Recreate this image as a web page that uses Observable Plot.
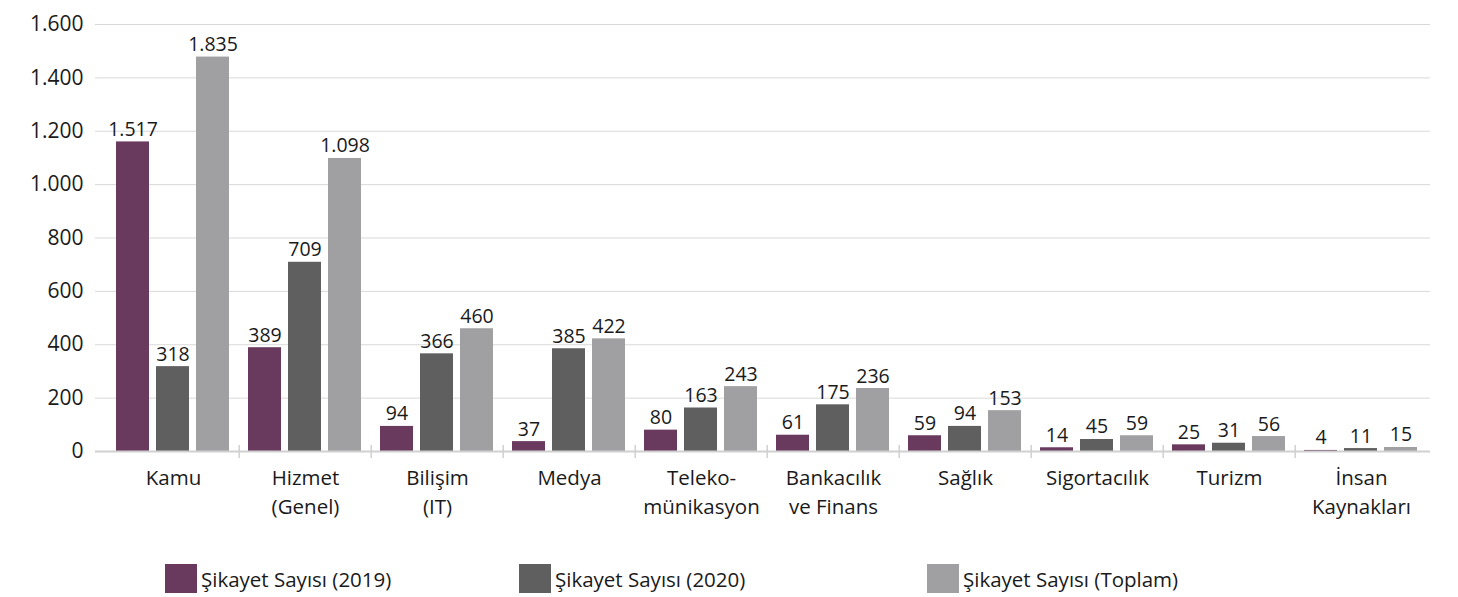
<!DOCTYPE html>
<html>
<head>
<meta charset="utf-8">
<script src="https://cdn.jsdelivr.net/npm/d3@7"></script>
<script src="https://cdn.jsdelivr.net/npm/@observablehq/plot@0.6"></script>
<style>
  html, body { margin: 0; padding: 0; background: #fff; }
  body { width: 1458px; font-family: "Open Sans", "Noto Sans", sans-serif; color: #1a1a1a; }
  #legend { position: relative; height: 52px; }
  .item { position: absolute; top: 19px; display: flex; align-items: center; font-size: 20.5px; white-space: nowrap; }
  .sw { width: 32px; height: 29px; margin-right: 4px; }
</style>
</head>
<body>
<div id="chart"></div>
<div id="legend"></div>
<script>
// Categories (sectors)
const categories = ["Kamu", "Hizmet\n(Genel)", "Bilişim\n(IT)", "Medya", "Teleko-\nmünikasyon",
  "Bankacılık\nve Finans", "Sağlık", "Sigortacılık", "Turizm", "İnsan\nKaynakları"];
// Series names
const series = ["Şikayet Sayısı (2019)", "Şikayet Sayısı (2020)", "Şikayet Sayısı (Toplam)"];
// Printed values (labels above bars)
const label2019 = [1517, 389, 94, 37, 80, 61, 59, 14, 25, 4];
const label2020 = [318, 709, 366, 385, 163, 175, 94, 45, 31, 11];
const labelTotal = [1835, 1098, 460, 422, 243, 236, 153, 59, 56, 15];
// Bar heights as drawn in the picture (the Kamu 2019 and total bars are shorter than their labels)
const bar2019 = [1160, 389, 94, 37, 80, 61, 59, 14, 25, 4];
const bar2020 = [318, 709, 366, 385, 163, 175, 94, 45, 31, 11];
const barTotal = [1478, 1098, 460, 422, 243, 236, 153, 59, 56, 15];
// Y-axis ticks
const yTicks = [0, 200, 400, 600, 800, 1000, 1200, 1400, 1600];
const colors = ["#693a5e", "#5f5f5f", "#a0a0a2"];

const bars = [bar2019, bar2020, barTotal];
const labels = [label2019, label2020, labelTotal];
const data = [];
categories.forEach((c, i) => {
  series.forEach((s, j) => {
    data.push({cat: c, series: s, bar: bars[j][i], label: labels[j][i]});
  });
});
// grid lines repeated per facet
const grid = [];
categories.forEach((c, i) => yTicks.forEach(v => grid.push({cat: c, idx: i, v})));
const last = categories.length - 1;

const fmt = v => d3.format(",")(v).replace(/,/g, ".");
const W = 1458, H = 545, ML = 104, MR = 28, MT = 24, MB = 94;
const band = (W - ML - MR) / categories.length;
const font = "'Open Sans', 'Noto Sans', sans-serif";

function gridMarks(filterV, opts) {
  const g = grid.filter(d => filterV(d.v));
  return [
    Plot.ruleY(g.filter(d => d.idx === 0), {fx: "cat", y: "v", insetLeft: -12, ...opts}),
    Plot.ruleY(g.filter(d => d.idx > 0 && d.idx < last), {fx: "cat", y: "v", ...opts}),
    Plot.ruleY(g.filter(d => d.idx === last), {fx: "cat", y: "v", insetRight: -3, ...opts})
  ];
}

const chart = Plot.plot({
  width: W,
  height: H,
  marginLeft: ML,
  marginRight: MR,
  marginTop: MT,
  marginBottom: MB,
  style: {fontFamily: font, color: "#1a1a1a", background: "#fff"},
  fx: {domain: categories, padding: 0, axis: null},
  x: {domain: series, paddingInner: 0.17, paddingOuter: 0.2, axis: null},
  y: {domain: [0, 1600], label: null, axis: null},
  color: {domain: series, range: colors},
  marks: [
    ...gridMarks(v => v > 0, {stroke: "#d9d9d9", strokeWidth: 1}),
    Plot.axisY({ticks: yTicks, tickSize: 0, tickPadding: 24, tickFormat: fmt, fontSize: 21, label: null, fill: "#1a1a1a"}),
    Plot.barY(data, {fx: "cat", x: "series", y: "bar", fill: "series"}),
    Plot.text(data, {fx: "cat", x: "series", y: "bar", text: d => fmt(d.label), lineAnchor: "bottom", dy: -6, fontSize: 19.5, fill: "#1a1a1a"}),
    ...gridMarks(v => v === 0, {stroke: "#d0d0d0", strokeWidth: 2}),
    Plot.ruleX(categories.slice(1), {fx: d => d, x: null, dx: -band / 2, insetTop: 421, insetBottom: -7, stroke: "#d0d0d0", strokeWidth: 1.5}),
    Plot.text(categories, {fx: d => d, text: d => d, frameAnchor: "bottom", lineAnchor: "top", dy: 13, lineHeight: 1.4, fontSize: 20.5, fill: "#1a1a1a"})
  ]
});
document.getElementById("chart").appendChild(chart);

// Legend
const legendPos = [165, 519, 927];
const legend = document.getElementById("legend");
series.forEach((s, j) => {
  const item = document.createElement("div");
  item.className = "item";
  item.style.left = legendPos[j] + "px";
  const sw = document.createElement("div");
  sw.className = "sw";
  sw.style.background = colors[j];
  const t = document.createElement("span");
  t.textContent = s;
  item.appendChild(sw);
  item.appendChild(t);
  legend.appendChild(item);
});
</script>
</body>
</html>
